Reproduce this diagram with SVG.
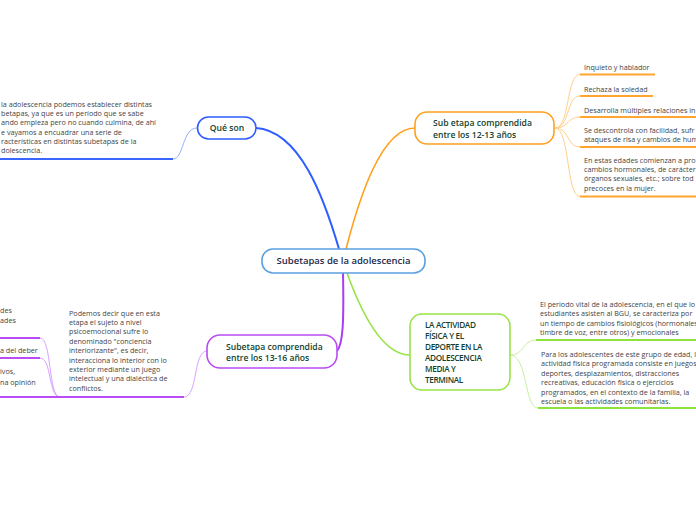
<svg xmlns="http://www.w3.org/2000/svg" width="696" height="520" viewBox="0 0 696 520">
<style>
.t{font-family:"Open Sans","Noto Sans","Liberation Sans",sans-serif;font-size:7.2px;fill:#444}
.n{font-family:"Open Sans","Noto Sans","Liberation Sans",sans-serif;font-size:8.6px;font-weight:600;fill:#123f2e}
.c{font-family:"Open Sans","Noto Sans","Liberation Sans",sans-serif;font-size:9.5px;font-weight:600;fill:#1b2a4a}
.b{fill:#fff;stroke-width:1.6}
path{fill:none}
</style>
<rect width="696" height="520" fill="#fff"/>
<g id="connectors">
<path d="M256,128 C300,131 324,198 339,249" stroke="#2f5dff" stroke-width="2"/>
<path d="M346,249 C360,195 382,128 415,128" stroke="#ffa01c" stroke-width="1.6"/>
<path d="M343,273 C344,322 343,344 337,351" stroke="#a93df2" stroke-width="2"/>
<path d="M347,273 C364,320 385,355 410,355" stroke="#98e34a" stroke-width="1.6"/>
<path d="M197,128 C182,128 184,159 173,159" stroke="#8fb0ff" stroke-width="1"/>
<path d="M0,159 H173" stroke="#3a66ff" stroke-width="2"/>
<g stroke="#ffcf8a" stroke-width="1">
<path d="M555,128 C570,128 566,74.5 580,74.5"/>
<path d="M555,128 C570,128 566,96 580,96"/>
<path d="M555,128 C570,128 566,117 580,117"/>
<path d="M555,128 C570,128 566,147 580,147"/>
<path d="M555,128 C570,128 566,196.5 580,196.5"/>
</g>
<g stroke="#ffa530" stroke-width="2">
<path d="M580,74.5 H655"/>
<path d="M580,96 H653"/>
<path d="M580,117 H696"/>
<path d="M580,147 H696"/>
<path d="M580,196.5 H696"/>
</g>
<g stroke="#c8f0a0" stroke-width="1">
<path d="M510,355 C525,355 522,340 536,340"/>
<path d="M510,355 C528,355 524,408 538,408"/>
</g>
<g stroke="#8ee23c" stroke-width="2">
<path d="M536,340 H696"/>
<path d="M538,408 H696"/>
</g>
<g stroke="#d8a2ff" stroke-width="1">
<path d="M207,351 C193,351 198,397 184,397"/>
<path d="M60,397 C48,397 52,338 40,338"/>
<path d="M60,397 C48,397 52,358 40,358"/>
</g>
<g stroke="#b94cf5" stroke-width="2">
<path d="M60,397 H184"/>
<path d="M0,338 H40"/>
<path d="M0,358 H40"/>
<path d="M0,397 H60"/>
</g>
</g>
<g id="center">
<rect class="b" x="262" y="249" width="163" height="24" rx="11" stroke="#5aa0e0"/>
<text class="c" x="343.5" y="264.4" text-anchor="middle">Subetapas de la adolescencia</text>
</g>
<g id="que-son">
<rect class="b" x="197.5" y="117" width="58.5" height="22" rx="11" stroke="#2f5dff"/>
<text class="n" x="227" y="131" text-anchor="middle">Qué son</text>
</g>
<g id="que-son-text">
<text class="t" x="1" y="106.5">la adolescencia podemos establecer distintas</text>
<text class="t" x="1" y="116">betapas, ya que es un período que se sabe</text>
<text class="t" x="1" y="125.3">ando empieza pero no cuando culmina, de ahí</text>
<text class="t" x="1" y="134.6">e vayamos a encuadrar una serie de</text>
<text class="t" x="1" y="143.9">racterísticas en distintas subetapas de la</text>
<text class="t" x="1" y="153.2">dolescencia.</text>
</g>
<g id="sub-12-13">
<rect class="b" x="415" y="112" width="139" height="32" rx="12" stroke="#ffa01c"/>
<text class="n" x="433" y="126">Sub etapa comprendida</text>
<text class="n" x="433" y="138">entre los 12-13 años</text>
</g>
<g id="o1"><text class="t" x="584" y="70">Inquieto y hablador</text></g>
<g id="o2"><text class="t" x="584" y="91.5">Rechaza la soledad</text></g>
<g id="o3"><text class="t" x="584" y="112.5">Desarrolla múltiples relaciones in</text></g>
<g id="o4">
<text class="t" x="584" y="133">Se descontrola con facilidad, sufr</text>
<text class="t" x="584" y="142.4">ataques de risa y cambios de hum</text>
</g>
<g id="o5">
<text class="t" x="584" y="162.5">En estas edades comienzan a pro</text>
<text class="t" x="584" y="171.9">cambios hormonales, de carácter</text>
<text class="t" x="584" y="181.3">órganos sexuales, etc.; sobre tod</text>
<text class="t" x="584" y="190.7">precoces en la mujer.</text>
</g>
<g id="green-node">
<rect class="b" x="410" y="314" width="100" height="76" rx="12" stroke="#98e34a"/>
<g class="n" style="font-size:8.2px;letter-spacing:-0.35px">
<text x="425" y="328">LA ACTIVIDAD</text>
<text x="425" y="339">FÍSICA Y EL</text>
<text x="425" y="350">DEPORTE  EN LA</text>
<text x="425" y="361">ADOLESCENCIA</text>
<text x="425" y="372">MEDIA Y</text>
<text x="425" y="383">TERMINAL</text>
</g>
</g>
<g id="g1">
<text class="t" x="540" y="306.5">El periodo vital de la adolescencia, en el que lo</text>
<text class="t" x="540" y="316">estudiantes asisten al BGU, se caracteriza por</text>
<text class="t" x="540" y="325.5">un tiempo de cambios fisiológicos (hormonales</text>
<text class="t" x="540" y="335">timbre de voz, entre otros) y emocionales</text>
</g>
<g id="g2">
<text class="t" x="541" y="356.5">Para los adolescentes de este grupo de edad, l</text>
<text class="t" x="541" y="366">actividad física programada consiste en juegos</text>
<text class="t" x="541" y="375.5">deportes, desplazamientos, distracciones</text>
<text class="t" x="541" y="385">recreativas, educación física o ejercicios</text>
<text class="t" x="541" y="394.5">programados, en el contexto de la familia, la</text>
<text class="t" x="541" y="404">escuela o las actividades comunitarias.</text>
</g>
<g id="sub-13-16">
<rect class="b" x="207" y="335" width="130" height="33" rx="13" stroke="#b94cf5"/>
<text class="n" x="226" y="349.5">Subetapa comprendida</text>
<text class="n" x="226" y="360.5">entre los 13-16 años</text>
</g>
<g id="podemos">
<text class="t" x="69" y="315.5">Podemos decir que en esta</text>
<text class="t" x="69" y="325">etapa el sujeto a nivel</text>
<text class="t" x="69" y="334.4">psicoemocional sufre lo</text>
<text class="t" x="69" y="343.8">denominado "conciencia</text>
<text class="t" x="69" y="353.2">interiorizante", es decir,</text>
<text class="t" x="69" y="362.6">interacciona lo interior con lo</text>
<text class="t" x="69" y="372">exterior mediante un juego</text>
<text class="t" x="69" y="381.4">intelectual y una dialéctica de</text>
<text class="t" x="69" y="390.8">conflictos.</text>
</g>
<g id="p1">
<text class="t" x="0" y="312.5">des</text>
<text class="t" x="0" y="322.5">ades</text>
</g>
<g id="p2"><text class="t" x="0" y="353">a del deber</text></g>
<g id="p3">
<text class="t" x="0" y="373.5">ivos,</text>
<text class="t" x="0" y="384.5">na opinión</text>
</g>
</svg>
